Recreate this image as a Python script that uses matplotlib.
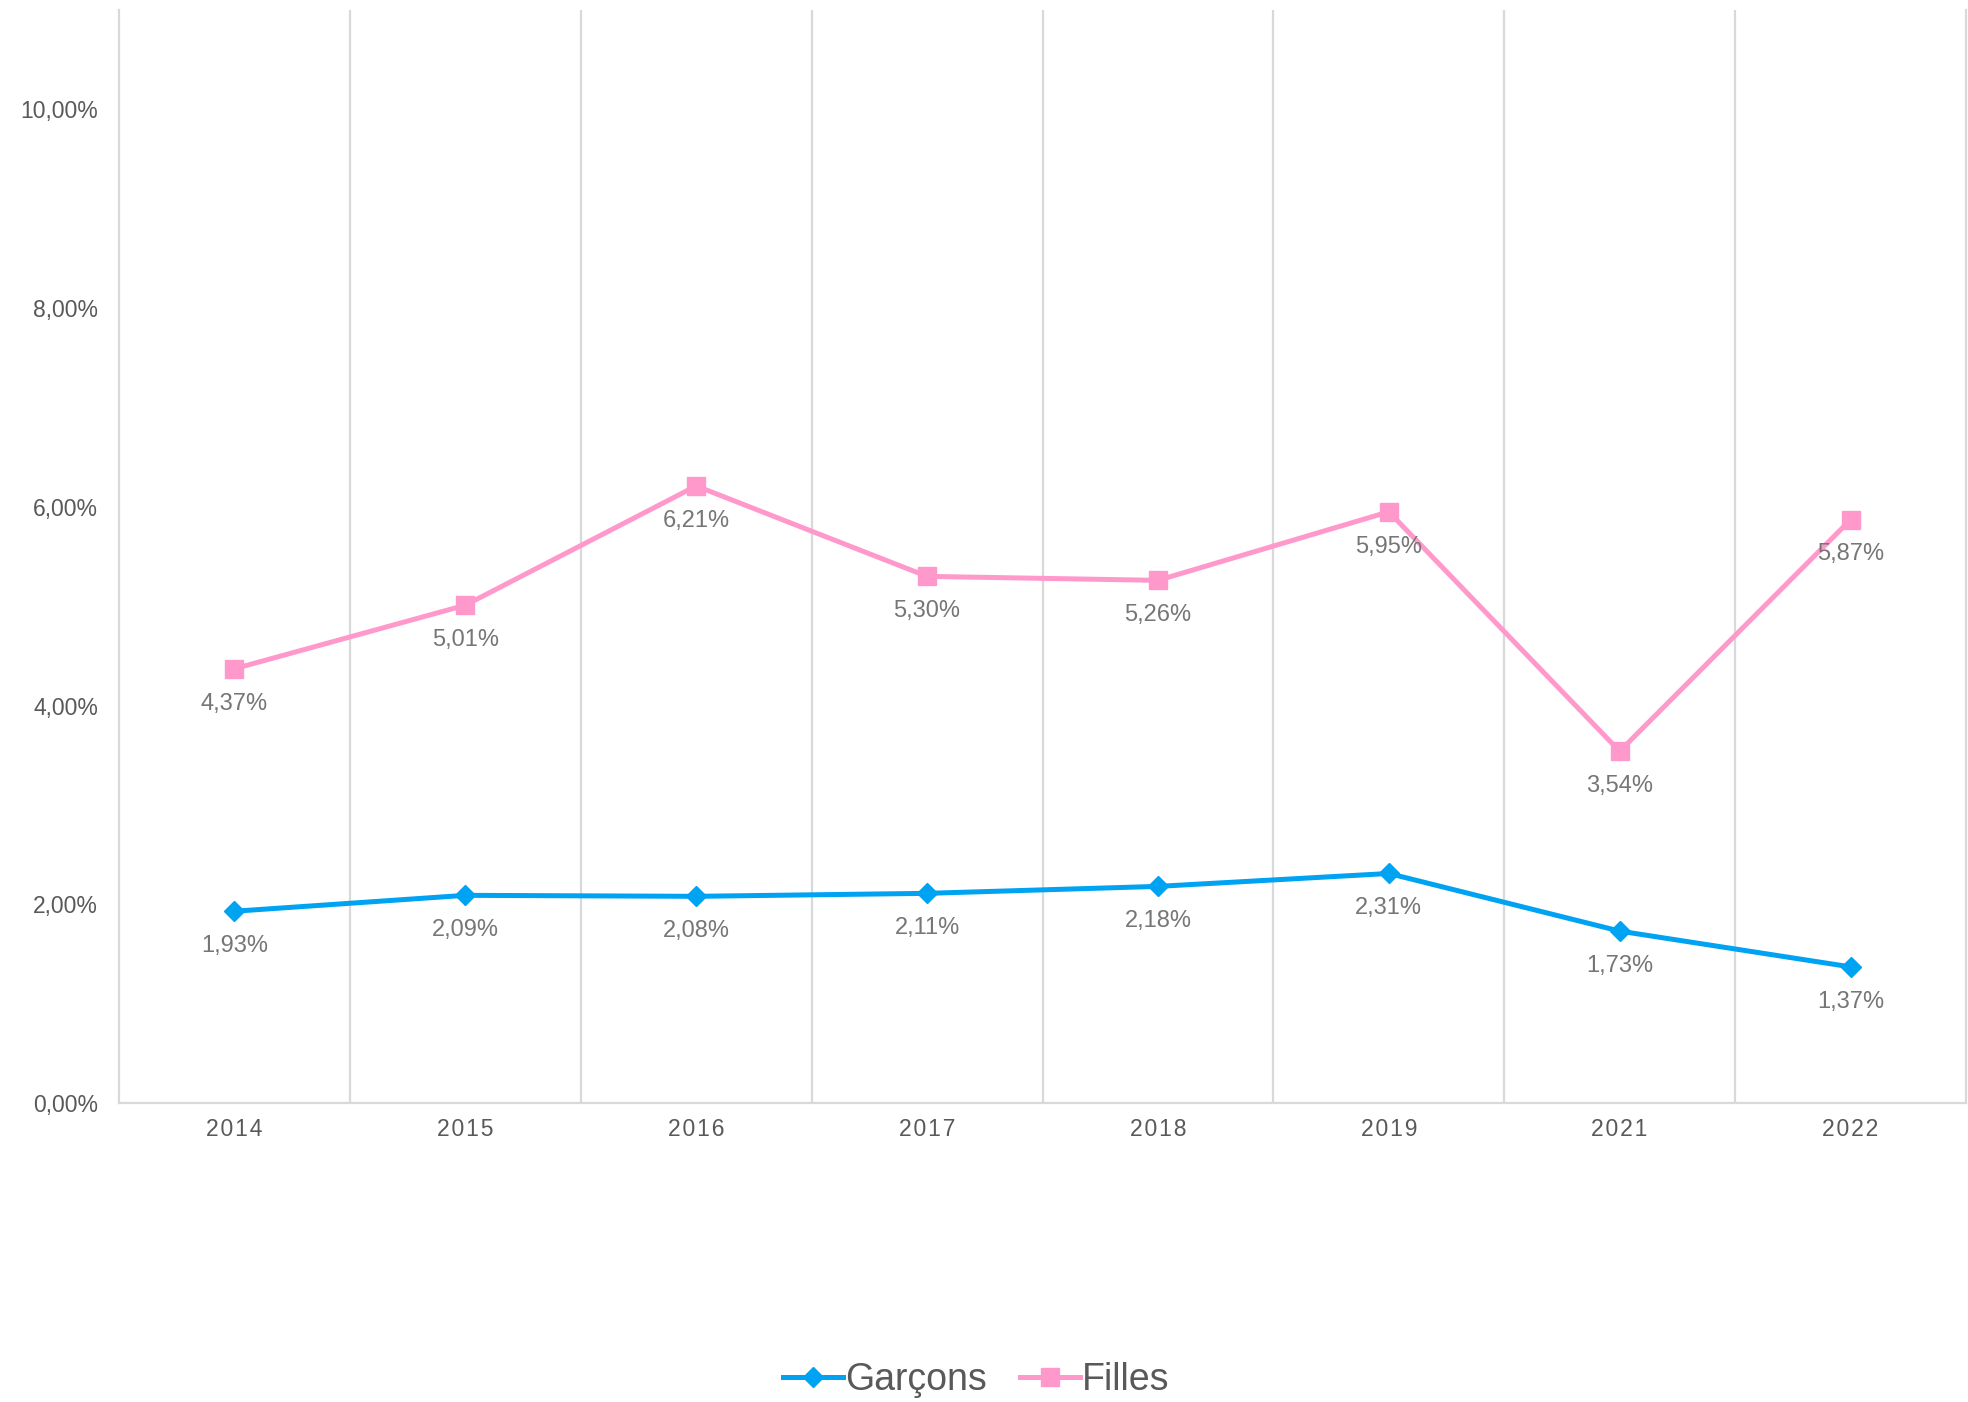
import matplotlib
matplotlib.use("Agg")
import matplotlib.pyplot as plt
import numpy as np

years = ["2014", "2015", "2016", "2017", "2018", "2019", "2021", "2022"]
garcons = [1.93, 2.09, 2.08, 2.11, 2.18, 2.31, 1.73, 1.37]
filles = [4.37, 5.01, 6.21, 5.30, 5.26, 5.95, 3.54, 5.87]
yticks = [0, 2, 4, 6, 8, 10]

blue = "#00A2F2"
pink = "#FF99CC"
grid_col = "#D9D9D9"
text_col = "#595959"

plt.rcParams["font.family"] = ["Liberation Sans", "DejaVu Sans"]

fig = plt.figure(figsize=(19.68, 14.02), dpi=100)
ax = fig.add_axes([119 / 1968, 1 - 1103 / 1402, (1966 - 119) / 1968, (1103 - 10) / 1402])

x = np.arange(len(years))
l1, = ax.plot(x, garcons, color=blue, lw=3.6, marker="D", ms=10, label="Garçons", zorder=3)
l2, = ax.plot(x, filles, color=pink, lw=3.6, marker="s", ms=13, label="Filles", zorder=3)

def fmt(v):
    return f"{v:.2f}%".replace(".", ",")

for xi, v in zip(x, garcons):
    ax.annotate(fmt(v), (xi, v), xytext=(0, -25), textcoords="offset points",
                ha="center", va="center", fontsize=17, color="#767676", zorder=4)
for xi, v in zip(x, filles):
    ax.annotate(fmt(v), (xi, v), xytext=(0, -25), textcoords="offset points",
                ha="center", va="center", fontsize=17, color="#767676", zorder=4)

ax.set_xlim(-0.5, len(years) - 0.5)
ax.set_ylim(0, 11)
ax.set_xticks(x)
# spaced-out year labels, like the original
ax.set_xticklabels(["\u200a".join(y) for y in years])
ax.set_yticks(yticks)
ax.set_yticklabels([fmt(v) for v in yticks])
ax.set_xticks(np.arange(0.5, len(years) - 1, 1), minor=True)
ax.grid(which="minor", axis="x", color=grid_col, lw=1.6)
ax.tick_params(axis="both", which="both", length=0)
ax.tick_params(axis="y", pad=15, labelsize=16.5, labelcolor=text_col)
ax.tick_params(axis="x", pad=11, labelsize=16.5, labelcolor=text_col)

ax.spines["top"].set_visible(False)
for s in ["left", "right", "bottom"]:
    ax.spines[s].set_color(grid_col)
    ax.spines[s].set_linewidth(1.6)

fig.legend(handles=[l1, l2], loc="lower center", bbox_to_anchor=(0.496, -0.021), ncol=2,
           frameon=False, fontsize=27, labelcolor=text_col, handlelength=1.6,
           handletextpad=0.05, columnspacing=0.9)

fig.savefig("out.png", dpi=100, facecolor="white")
